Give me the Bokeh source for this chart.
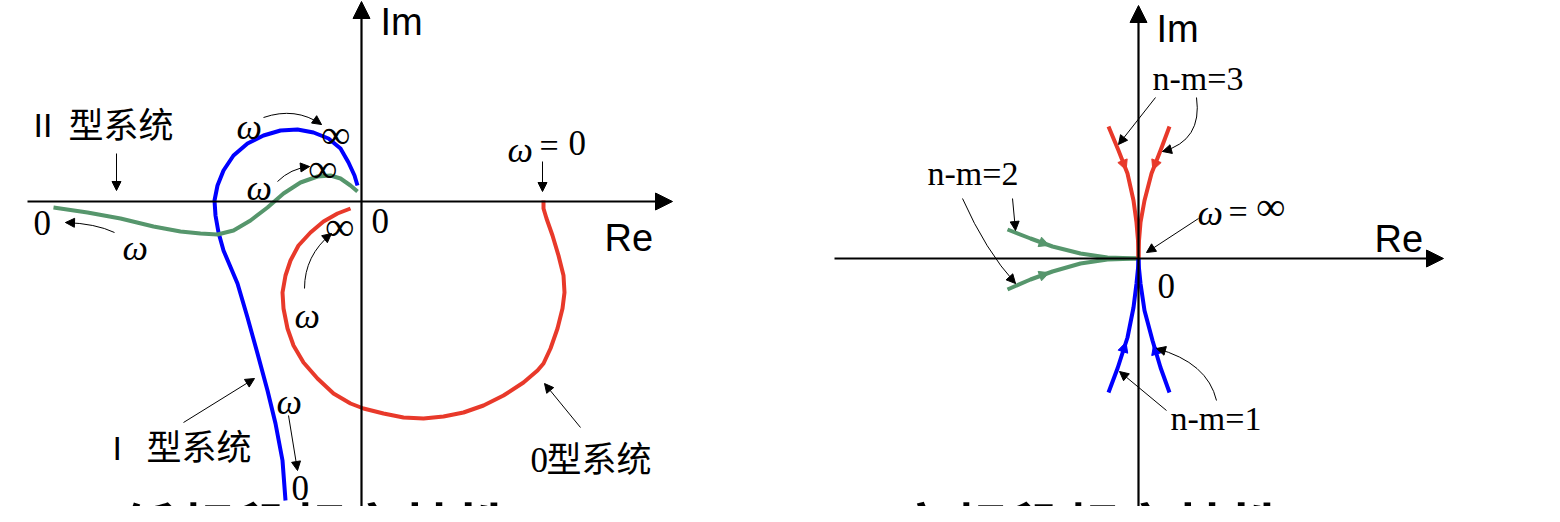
from bokeh.plotting import figure
from bokeh.models import Range1d, Arrow, NormalHead
from bokeh.core.properties import value
from bokeh.embed import file_html
from bokeh.resources import INLINE
import math

# ---------------- data (schematic curves, page coordinates: x right, y down) -------------
# Left panel: low-frequency Nyquist sketches
type0_x = [543, 543, 546, 552, 558, 563, 564, 562, 557, 550, 543, 537, 523, 503, 483, 463,
           443, 423, 403, 383, 363, 350, 333, 317, 303, 293, 287, 283, 282, 285, 290, 298,
           310, 323, 337, 350]
type0_y = [200, 208, 218, 235, 255, 275, 292, 308, 328, 348, 363, 370, 382, 395, 405, 412,
           416, 418, 417, 413, 408, 403, 393, 378, 362, 345, 328, 308, 292, 275, 260, 245,
           232, 221, 213, 208]

type1_x = [357, 354, 348, 340, 328, 313, 297, 280, 263, 247, 233, 223, 217, 214, 215, 218,
           223, 237, 247, 257, 267, 275, 282, 285]
type1_y = [185, 175, 162, 148, 138, 132, 129, 130, 135, 143, 155, 170, 185, 200, 215, 232,
           250, 283, 317, 353, 390, 423, 460, 500]

type2_x = [53, 87, 120, 153, 180, 200, 217, 233, 250, 267, 283, 300, 317, 330, 340, 350, 357]
type2_y = [207, 212, 218, 226, 231, 233, 234, 230, 220, 207, 193, 182, 176, 175, 178, 185, 191]

# Right panel: high-frequency behaviour near the origin
nm3_left_x = [1108, 1118, 1127, 1133, 1136, 1137.5, 1138]
nm3_left_y = [126, 150, 173, 200, 222, 240, 258]
nm3_right_x = [1169, 1160, 1151, 1144, 1140, 1138.5, 1138]
nm3_right_y = [126, 150, 173, 200, 222, 240, 258]
nm1_left_x = [1108, 1117, 1127, 1133, 1136, 1137.5, 1138]
nm1_left_y = [392, 368, 337, 307, 283, 268, 258]
nm1_right_x = [1169, 1160, 1152, 1144, 1140, 1138.5, 1138]
nm1_right_y = [392, 367, 340, 310, 283, 268, 258]
nm2_up_x = [1007, 1030, 1052, 1080, 1107, 1138]
nm2_up_y = [229, 238, 246, 253, 257, 258]
nm2_lo_x = [1007, 1030, 1052, 1080, 1107, 1138]
nm2_lo_y = [289, 279, 271, 263, 259, 258]

BLUE = "#0000ff"
GREEN = "#56966c"
RED = "#e8392a"

SERIF = value("Liberation Serif")
SANS = value("Liberation Sans")
CJK = value("Noto Sans CJK SC")

W, H = 1544, 506
p = figure(width=W, height=H, output_backend="svg", toolbar_location=None,
           x_range=Range1d(0, W), y_range=Range1d(H, 0),
           x_axis_type=None, y_axis_type=None, min_border=0)
p.grid.visible = False
p.outline_line_color = None
p.background_fill_color = "white"
p.border_fill_color = "white"


def arrow(x0, y0, x1, y1, size=9, color="black", lw=1.0, shaft=True):
    p.add_layout(Arrow(end=NormalHead(size=size, fill_color=color, line_color=color, line_width=1),
                       x_start=x0, y_start=y0, x_end=x1, y_end=y1,
                       line_color=color, line_width=lw, line_alpha=1.0 if shaft else 0.0))


def curved_arrow(x0, y0, cx, cy, x1, y1, size=9):
    p.quadratic(x0=[x0], y0=[y0], x1=[x1], y1=[y1], cx=[cx], cy=[cy],
                line_color="black", line_width=1)
    dx, dy = x1 - cx, y1 - cy
    n = math.hypot(dx, dy)
    arrow(x1 - 3 * dx / n, y1 - 3 * dy / n, x1, y1, size=size, shaft=False)


# axes
arrow(27, 201, 672, 201, size=17, lw=2.2)
arrow(361, 512, 361, 1, size=17, lw=2.2)
arrow(834, 258, 1443, 258, size=17, lw=2.2)
arrow(1138, 510, 1138, 5, size=17, lw=2.2)

# curves
lw = 4
p.line(type0_x, type0_y, line_color=RED, line_width=lw, line_join="round")
p.line(type1_x, type1_y, line_color=BLUE, line_width=lw, line_join="round")
p.line(type2_x, type2_y, line_color=GREEN, line_width=lw, line_join="round")

for xs, ys, c in [(nm2_up_x, nm2_up_y, GREEN), (nm2_lo_x, nm2_lo_y, GREEN),
                  (nm1_left_x, nm1_left_y, BLUE), (nm1_right_x, nm1_right_y, BLUE),
                  (nm3_left_x, nm3_left_y, RED), (nm3_right_x, nm3_right_y, RED)]:
    p.line(xs, ys, line_color=c, line_width=lw, line_join="round")

# direction marks on the right-panel curves
for xs, ys, c, i in [(nm3_left_x, nm3_left_y, RED, 1), (nm3_right_x, nm3_right_y, RED, 1),
                     (nm1_left_x, nm1_left_y, BLUE, 1), (nm1_right_x, nm1_right_y, BLUE, 1),
                     (nm2_up_x, nm2_up_y, GREEN, 1), (nm2_lo_x, nm2_lo_y, GREEN, 1)]:
    xa, ya, xb, yb = xs[i], ys[i], xs[i + 1], ys[i + 1]
    arrow(xa, ya, xa + 0.85 * (xb - xa), ya + 0.85 * (yb - ya), size=10, color=c, shaft=False)

# annotation arrows (left)
arrow(116, 153, 116, 190)
curved_arrow(114, 232, 95, 223, 65, 222)
curved_arrow(263, 117, 295, 106, 321, 124)
curved_arrow(277, 181, 290, 168, 309, 166)
curved_arrow(304, 288, 304, 255, 331, 233)
arrow(542, 161, 542, 191)
arrow(580, 427, 544, 383)
arrow(183, 422, 254, 378)
arrow(288, 415, 297, 470)
# annotation arrows (right)
arrow(1155, 97, 1118, 144)
curved_arrow(1196, 97, 1202, 140, 1162, 151)
arrow(1012, 198, 1015, 230)
curved_arrow(962, 198, 985, 250, 1015, 283)
arrow(1198, 218, 1146, 252)
arrow(1166, 410, 1119, 371)
curved_arrow(1216, 400, 1207, 362, 1156, 348)


def txt(xs, ys, texts, font, size, style="normal"):
    p.text(x=xs, y=ys, text=texts, text_font=font, text_font_size=f"{size}px",
           text_font_style=style, text_baseline="middle", text_align="left", text_color="black")


txt([380, 604, 1156, 1374], [21, 237, 28, 238], ["Im", "Re", "Im", "Re"], SANS, 38)
txt([33, 112], [124, 447], ["II", "I"], SANS, 34)
txt([371, 33, 291, 1157, 530, 568], [220, 222, 487, 285, 459, 142], ["0"] * 6, SERIF, 35)
txt([539, 1228], [145, 211], ["=", "="], SERIF, 34)
txt([1152, 927, 1170], [78, 173, 418], ["n-m=3", "n-m=2", "n-m=1"], SERIF, 34)
txt([122, 236, 246, 294, 276, 507, 1197], [247, 126, 187, 315, 401, 149, 212], ["ω"] * 7,
    SERIF, 36, style="italic")
txt([321, 308, 325, 1256], [134, 168, 226, 206], ["∞"] * 4, SERIF, 40, style="bold")
txt([68, 146, 546], [122, 444, 456], ["型系统"] * 3, CJK, 35)
txt([120, 893], [525, 525], ["低频段频率特性", "高频段频率特性"], CJK, 56, style="bold")

open("out.html", "w").write(file_html(p, INLINE))
